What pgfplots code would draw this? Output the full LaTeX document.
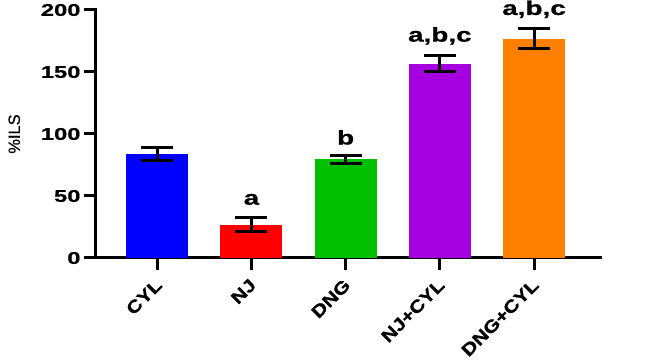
\documentclass[border=0pt]{standalone}
\usepackage{fontspec}
\setmainfont{Liberation Sans}
\newfontfamily\widefont[FakeStretch=1.4, BoldFeatures={FakeBold=0.8}]{Liberation Sans}
\newfontfamily\diagfont[FakeStretch=1.2, BoldFeatures={FakeBold=0.8}]{Liberation Sans}
\newfontfamily\ylfont[FakeBold=0.5]{Liberation Sans}
\usepackage{pgfplots}
\pgfplotsset{compat=1.18}
\usepackage{pgfplotstable}
\definecolor{cblue}{RGB}{0,0,255}
\definecolor{cred}{RGB}{255,0,0}
\definecolor{cgreen}{RGB}{0,192,0}
\definecolor{cpurple}{RGB}{165,0,222}
\definecolor{corange}{RGB}{255,128,0}
\pgfplotstableread{
x y lab
1 43 a
2 91.5 b
3 174.5 {a,b,c}
4 196 {a,b,c}
}\labtable
\begin{document}
\begin{tikzpicture}
\begin{axis}[
  name=ax,
  scale only axis,
  width=504bp, height=248bp,
  xmin=-0.65, xmax=4.7,
  ymin=0, ymax=200,
  axis x line=bottom, axis y line=left,
  axis line style={-, line width=3bp, line cap=rect},
  tick align=outside,
  major tick length=12bp,
  every tick/.style={black, line width=3bp},
  xtick={0,1,2,3,4},
  xticklabels={CYL,NJ,DNG,NJ+CYL,DNG+CYL},
  ytick={0,50,100,150,200},
  /pgf/number format/assume math mode=true,
  tick label style={font=\widefont\bfseries\fontsize{17}{17}\selectfont},
  x tick label style={rotate=45, anchor=north east, font=\diagfont\bfseries\fontsize{17.5}{17.5}\selectfont, yshift=0bp, xshift=-4bp},
  ylabel={\%ILS},
  ylabel style={font=\ylfont\fontsize{16.5}{16.5}\selectfont, yshift=14bp},
  ybar, bar width=62bp, bar shift=0pt,
  clip=false,
  error bars/error bar style={line width=3bp, black},
  error bars/error mark options={rotate=90, mark size=16bp, line width=3bp, black},
]
\addplot[fill=cblue, draw=none, error bars/.cd, y dir=both, y explicit] coordinates {(0,83.6) +- (0,5.2)};
\addplot[fill=cred, draw=none, error bars/.cd, y dir=both, y explicit] coordinates {(1,27) +- (0,5.8)};
\addplot[fill=cgreen, draw=none, error bars/.cd, y dir=both, y explicit] coordinates {(2,79.5) +- (0,3.5)};
\addplot[fill=cpurple, draw=none, error bars/.cd, y dir=both, y explicit] coordinates {(3,156.7) +- (0,6.5)};
\addplot[fill=corange, draw=none, error bars/.cd, y dir=both, y explicit] coordinates {(4,177) +- (0,8.1)};
\addplot[draw=none, mark=none, nodes near coords, point meta=explicit symbolic,
  every node near coord/.style={anchor=base, font=\widefont\bfseries\fontsize{20}{20}\selectfont, inner sep=0pt, yshift=0pt}]
  table[x=x, y=y, meta=lab] {\labtable};
\end{axis}
\path ([xshift=-96bp,yshift=-100bp]ax.south west) rectangle ([xshift=46bp,yshift=10bp]ax.north east);
\end{tikzpicture}
\end{document}
